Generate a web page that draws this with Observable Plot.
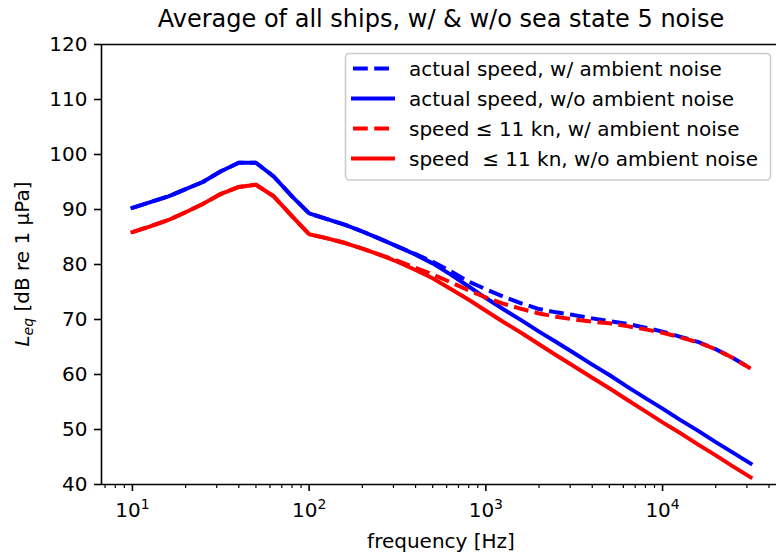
<!DOCTYPE html>
<html>
<head>
<meta charset="utf-8">
<script src="https://cdn.jsdelivr.net/npm/d3@7"></script>
<script src="https://cdn.jsdelivr.net/npm/@observablehq/plot@0.6"></script>
<style>
  body { margin: 0; background: #fff; }
  #chart { width: 776px; height: 557px; position: relative; overflow: hidden; }
</style>
</head>
<body>
<div id="chart"></div>
<script>
// ---- data (1/3-octave band centre frequencies, Hz) ----
const freqs = [10, 12.5, 16, 20, 25, 31.5, 40, 50, 63, 80, 100, 125, 160, 200, 250, 315, 400, 500, 630, 800,
  1000, 1250, 1600, 2000, 2500, 3150, 4000, 5000, 6300, 8000, 10000, 12500, 16000, 20000, 25000, 31500];

// actual speed, w/ ambient noise (dashed blue)
const actualWithAmbient = [90.3, 91.3, 92.4, 93.7, 95.0, 96.9, 98.5, 98.5, 96.0, 92.4, 89.3, 88.3, 87.2, 86.0, 84.7, 83.3, 81.9, 80.5, 78.8, 76.9,
  75.5, 74.2, 72.9, 71.9, 71.3, 70.8, 70.2, 69.7, 69.2, 68.5, 67.8, 66.9, 65.9, 64.6, 63.0, 61.1];
// actual speed, w/o ambient noise (solid blue)
const actualWithoutAmbient = [90.3, 91.3, 92.4, 93.7, 95.0, 96.9, 98.5, 98.5, 96.0, 92.4, 89.3, 88.3, 87.2, 86.0, 84.7, 83.3, 81.8, 80.2, 78.2, 76.0,
  73.9, 71.9, 69.8, 67.8, 65.9, 63.9, 61.8, 59.9, 57.8, 55.7, 53.8, 51.8, 49.7, 47.7, 45.8, 43.8];
// speed <= 11 kn, w/ ambient noise (dashed red)
const slowWithAmbient = [85.9, 86.9, 88.1, 89.5, 91.0, 92.8, 94.1, 94.5, 92.4, 88.8, 85.5, 84.8, 83.9, 82.9, 81.8, 80.7, 79.4, 78.2, 76.8, 75.3,
  74.0, 72.9, 71.9, 71.1, 70.5, 70.0, 69.6, 69.3, 68.8, 68.2, 67.6, 66.8, 65.8, 64.6, 63.0, 61.1];
// speed <= 11 kn, w/o ambient noise (solid red)
const slowWithoutAmbient = [85.9, 86.9, 88.1, 89.5, 91.0, 92.8, 94.1, 94.5, 92.4, 88.8, 85.5, 84.8, 83.9, 82.9, 81.8, 80.5, 79.0, 77.5, 75.6, 73.6,
  71.6, 69.6, 67.5, 65.5, 63.5, 61.5, 59.4, 57.5, 55.4, 53.3, 51.3, 49.4, 47.2, 45.3, 43.3, 41.3];

const seriesNames = [
  "actual speed, w/ ambient noise",
  "actual speed, w/o ambient noise",
  "speed \u2264 11 kn, w/ ambient noise",
  "speed  \u2264 11 kn, w/o ambient noise"
];
const seriesValues = [actualWithAmbient, actualWithoutAmbient, slowWithAmbient, slowWithoutAmbient];
const seriesColors = ["blue", "blue", "red", "red"];
const seriesDashed = [true, false, true, false];

const xDomain = [6.683, 47100];
const yDomain = [40, 120];
const yTicks = [40, 50, 60, 70, 80, 90, 100, 110, 120];
const xMajorTicks = [10, 100, 1000, 10000];
const xMinorTicks = [7, 8, 9, 20, 30, 40, 50, 60, 70, 80, 90, 200, 300, 400, 500, 600, 700, 800, 900,
  2000, 3000, 4000, 5000, 6000, 7000, 8000, 9000, 20000, 30000, 40000];
const titleText = "Average of all ships, w/ & w/o sea state 5 noise";
const xLabelText = "frequency [Hz]";
const yLabelMain = " [dB re 1 \u03bcPa]";

// ---- build table ----
const rows = [];
seriesValues.forEach((vals, i) => vals.forEach((v, j) => rows.push({series: seriesNames[i], f: freqs[j], v})));

const DASH = "14.8,6.4";
const lineMarks = seriesNames.map((name, i) =>
  Plot.line(rows.filter(d => d.series === name), {
    x: "f", y: "v",
    stroke: seriesColors[i],
    strokeWidth: 4,
    strokeDasharray: seriesDashed[i] ? DASH : null,
    strokeLinecap: seriesDashed[i] ? "butt" : "square",
    strokeLinejoin: "round"
  })
);

const plot = Plot.plot({
  width: 776, height: 557,
  marginLeft: 101, marginRight: 0, marginTop: 44, marginBottom: 73,
  style: {fontFamily: "'DejaVu Sans', sans-serif", background: "white", color: "black"},
  x: {type: "log", domain: xDomain, range: [101, 781], label: null},
  y: {domain: yDomain, range: [484, 44], label: null},
  marks: [
    ...lineMarks,
    Plot.ruleY([yDomain[1]], {stroke: "black", strokeWidth: 1.6}),
    Plot.ruleY([yDomain[0]], {stroke: "black", strokeWidth: 1.6}),
    Plot.ruleX([xDomain[0]], {stroke: "black", strokeWidth: 1.6}),
    Plot.axisY({ticks: yTicks, tickSize: 7, tickPadding: 7, fontSize: 20, label: null, strokeWidth: 1.6, tickFormat: d => String(d)}),
    Plot.axisX({ticks: xMinorTicks, tickSize: 4, tickFormat: () => "", label: null, strokeWidth: 1.2}),
    Plot.axisX({ticks: xMajorTicks, tickSize: 7, tickPadding: 7, fontSize: 20, label: null, strokeWidth: 1.6,
      tickFormat: d => String(Math.round(Math.log10(d)))})
  ]
});

document.getElementById("chart").appendChild(plot);

const svg = d3.select(plot);

// superscript exponents on major x tick labels
svg.selectAll('g[aria-label="x-axis tick label"]').each(function () {
  const g = d3.select(this);
  let hasText = false;
  g.selectAll("text").each(function () {
    const t = d3.select(this);
    const e = t.text();
    if (!e) return;
    hasText = true;
    t.text("10");
    t.append("tspan").attr("font-size", 14).attr("dy", "-0.55em").text(e);
  });
  if (hasText) {
    const tr = g.attr("transform") || "";
    g.attr("transform", tr + " translate(0,4)");
  }
});

// title
svg.append("text")
  .attr("x", 441).attr("y", 27)
  .attr("text-anchor", "middle").attr("font-size", 24).attr("fill", "black")
  .text(titleText);

// x label
svg.append("text")
  .attr("x", 441).attr("y", 548)
  .attr("text-anchor", "middle").attr("font-size", 20).attr("fill", "black")
  .text(xLabelText);

// y label
const yl = svg.append("text")
  .attr("transform", "translate(29,264) rotate(-90)")
  .attr("text-anchor", "middle").attr("font-size", 20).attr("fill", "black")
  .style("white-space", "pre");
yl.append("tspan").attr("font-style", "italic").text("L");
yl.append("tspan").attr("font-style", "italic").attr("font-size", 14).attr("dy", 4).text("eq");
yl.append("tspan").attr("dy", -4).text(yLabelMain);

// legend
const lg = svg.append("g").attr("text-anchor", "start");
lg.append("rect")
  .attr("x", 345.5).attr("y", 53.5).attr("width", 425).attr("height", 126.5).attr("rx", 4)
  .attr("fill", "white").attr("fill-opacity", 0.8)
  .attr("stroke", "#cccccc").attr("stroke-width", 1.6);
seriesNames.forEach((name, i) => {
  const cy = 68.5 + i * 30;
  lg.append("line")
    .attr("x1", 353).attr("x2", 393).attr("y1", cy).attr("y2", cy)
    .attr("stroke", seriesColors[i]).attr("stroke-width", 4)
    .attr("stroke-linecap", seriesDashed[i] ? "butt" : "square")
    .attr("stroke-dasharray", seriesDashed[i] ? DASH : null);
  lg.append("text")
    .attr("x", 409).attr("y", cy).attr("dy", "0.36em")
    .attr("text-anchor", "start")
    .attr("font-size", 20).attr("fill", "black")
    .style("white-space", "pre")
    .text(name);
});
</script>
</body>
</html>
